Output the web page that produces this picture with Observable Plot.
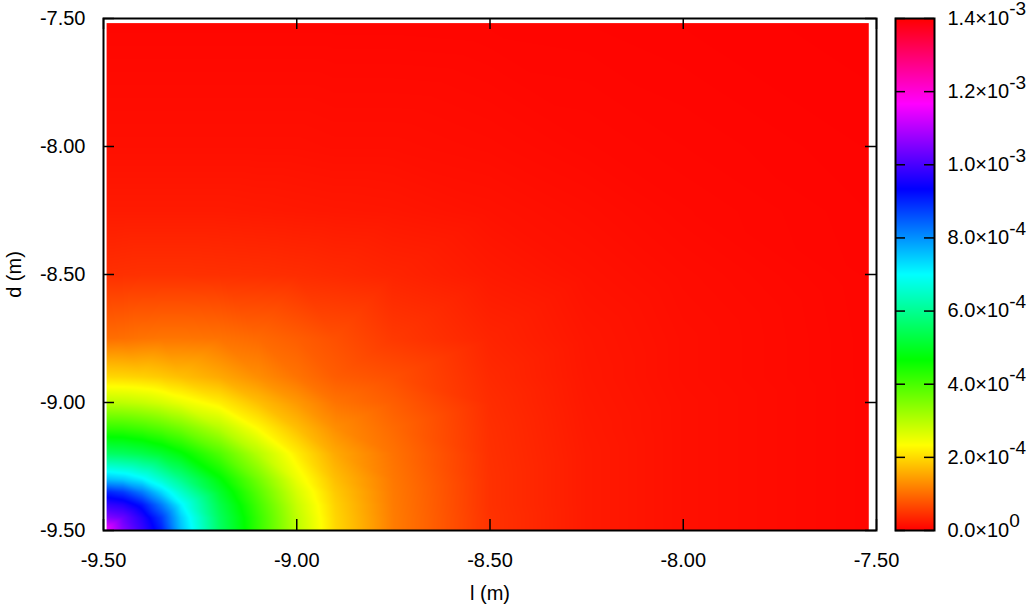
<!DOCTYPE html>
<html><head><meta charset="utf-8">
<script src="https://cdn.jsdelivr.net/npm/d3@7"></script>
<script src="https://cdn.jsdelivr.net/npm/@observablehq/plot@0.6"></script>
<style>
body{margin:0;background:#fff;}
#wrap{position:relative;width:1033px;height:608px;}
#wrap svg{position:absolute;top:0;overflow:visible;}
</style></head><body><div id="wrap"></div>
<script>
// grid coordinates (m)
const lValues = [-9.5,-9.45,-9.4,-9.35,-9.3,-9.2,-9.1,-9.0,-8.9,-8.75,-8.5,-8.25,-8.0,-7.5];
const dValues = [-9.5,-9.45,-9.4,-9.35,-9.3,-9.2,-9.1,-9.0,-8.9,-8.75,-8.5,-8.25,-8.0,-7.5];
// field values in units of 1e-4; row i -> d = dValues[i], column j -> l = lValues[j]
const field = [
  [11.7, 10.6, 9.85, 9.05, 7.6, 5.6, 4.2, 2.95, 1.98, 1.14, 0.46, 0.24, 0.14, 0.05],
  [10.6, 10.3, 9.65, 8.8, 7.45, 5.52, 4.18, 2.92, 1.96, 1.14, 0.46, 0.24, 0.14, 0.05],
  [9.85, 9.65, 9.15, 8.2, 7.1, 5.36, 4.06, 2.84, 1.92, 1.13, 0.45, 0.24, 0.14, 0.05],
  [9.05, 8.8, 8.2, 7.35, 6.55, 5.1, 3.87, 2.7, 1.85, 1.12, 0.45, 0.24, 0.14, 0.05],
  [7.6, 7.45, 7.1, 6.55, 5.95, 4.75, 3.62, 2.51, 1.75, 1.1, 0.45, 0.24, 0.14, 0.05],
  [5.6, 5.52, 5.36, 5.1, 4.75, 3.95, 3.0, 2.18, 1.55, 1.05, 0.44, 0.24, 0.14, 0.05],
  [4.2, 4.18, 4.06, 3.87, 3.62, 3.0, 2.3, 1.75, 1.3, 0.97, 0.43, 0.23, 0.14, 0.05],
  [2.95, 2.92, 2.84, 2.7, 2.51, 2.18, 1.75, 1.4, 1.06, 0.86, 0.41, 0.22, 0.14, 0.05],
  [1.98, 1.96, 1.92, 1.85, 1.75, 1.55, 1.3, 1.06, 0.85, 0.73, 0.38, 0.21, 0.13, 0.05],
  [1.0, 1.02, 1.06, 1.08, 1.08, 1.05, 0.97, 0.86, 0.73, 0.52, 0.33, 0.2, 0.13, 0.05],
  [0.43, 0.44, 0.45, 0.45, 0.45, 0.44, 0.43, 0.41, 0.38, 0.33, 0.23, 0.16, 0.11, 0.045],
  [0.24, 0.24, 0.24, 0.24, 0.24, 0.24, 0.23, 0.22, 0.21, 0.2, 0.16, 0.12, 0.08, 0.04],
  [0.14, 0.14, 0.14, 0.14, 0.14, 0.14, 0.14, 0.14, 0.13, 0.13, 0.11, 0.08, 0.06, 0.03],
  [0.05, 0.05, 0.05, 0.05, 0.05, 0.05, 0.05, 0.05, 0.05, 0.05, 0.045, 0.04, 0.03, 0.015]
];
const axisTicks = [-9.5, -9.0, -8.5, -8.0, -7.5];
const cbTicks = [0, 2e-4, 4e-4, 6e-4, 8e-4, 1.0e-3, 1.2e-3, 1.4e-3];
const cbLabels = ["0.0×10^0", "2.0×10^-4", "4.0×10^-4", "6.0×10^-4", "8.0×10^-4", "1.0×10^-3", "1.2×10^-3", "1.4×10^-3"];
const colorMax = 1.4e-3;

const points = [];
dValues.forEach((d, i) => lValues.forEach((l, j) => points.push({l, d, v: field[i][j] * 1e-4})));

const hue = t => d3.hsl(360 * t, 1, 0.5).formatHex();
const colorScale = {type: "linear", domain: [0, colorMax], interpolate: hue};
const font = {fontSize: "20px", fontFamily: "'Liberation Sans', Arial, sans-serif", color: "#000", background: "transparent"};

const W = 890, H = 608, mL = 103, mR = 14, mT = 18, mB = 78;
const iw = W - mL - mR, ih = H - mT - mB;

const main = Plot.plot({
  width: W, height: H, marginLeft: mL, marginRight: mR, marginTop: mT, marginBottom: mB,
  style: font,
  x: {domain: [-9.5, -7.5]},
  y: {domain: [-9.5, -7.5]},
  color: colorScale,
  marks: [
    Plot.raster(points, {x: "l", y: "d", fill: "v", interpolate: "barycentric", pixelSize: 1,
      x1: -9.492, x2: -7.52, y1: -9.5, y2: -7.518}),
    Plot.tickX(axisTicks, {x: d => d, insetTop: ih - 11, strokeWidth: 1.5}),
    Plot.tickX(axisTicks, {x: d => d, insetBottom: ih - 11, strokeWidth: 1.5}),
    Plot.tickY(axisTicks, {y: d => d, insetRight: iw - 11, strokeWidth: 1.5}),
    Plot.tickY(axisTicks, {y: d => d, insetLeft: iw - 11, strokeWidth: 1.5}),
    Plot.frame({stroke: "#000", strokeWidth: 2}),
    Plot.axisX(axisTicks, {tickSize: 0, tickPadding: 22, tickFormat: d => d.toFixed(2),
      label: "l (m)", labelAnchor: "center", labelOffset: 69, labelArrow: "none"}),
    Plot.axisY(axisTicks, {tickSize: 0, tickPadding: 18, tickFormat: d => d.toFixed(2),
      label: "d (m)", labelAnchor: "center", labelOffset: 97, labelArrow: "none"})
  ]
});
main.style.left = "0px";

const cbW = 153, cbL = 15, cbBar = 39;
const cb = Plot.plot({
  width: cbW, height: H, marginLeft: cbL, marginRight: cbW - cbL - cbBar, marginTop: mT, marginBottom: mB,
  style: font,
  x: {domain: [0, 1], axis: null},
  y: {domain: [0, colorMax]},
  color: colorScale,
  marks: [
    Plot.raster({fill: (x, y) => y, x1: 0, x2: 1, y1: 0, y2: colorMax, pixelSize: 1}),
    Plot.tickY(cbTicks, {y: d => d, insetRight: cbBar - 10, strokeWidth: 1.5}),
    Plot.tickY(cbTicks, {y: d => d, insetLeft: cbBar - 10, strokeWidth: 1.5}),
    Plot.frame({stroke: "#000", strokeWidth: 2}),
    Plot.axisY(cbTicks, {anchor: "right", tickSize: 0, tickPadding: 13,
      tickFormat: d => cbLabels[cbTicks.indexOf(d)], label: null})
  ]
});
cb.style.left = "880px";

// superscript exponents as tspans
cb.querySelectorAll('g[aria-label="y-axis tick label"] text').forEach(t => {
  const parts = t.textContent.split("^");
  if (parts.length < 2) return;
  t.textContent = parts[0];
  const ts = document.createElementNS("http://www.w3.org/2000/svg", "tspan");
  ts.setAttribute("dy", "-0.5em");
  ts.setAttribute("font-size", "19");
  ts.textContent = parts[1];
  t.appendChild(ts);
});

const wrap = document.getElementById("wrap");
wrap.appendChild(main);
wrap.appendChild(cb);
</script></body></html>
